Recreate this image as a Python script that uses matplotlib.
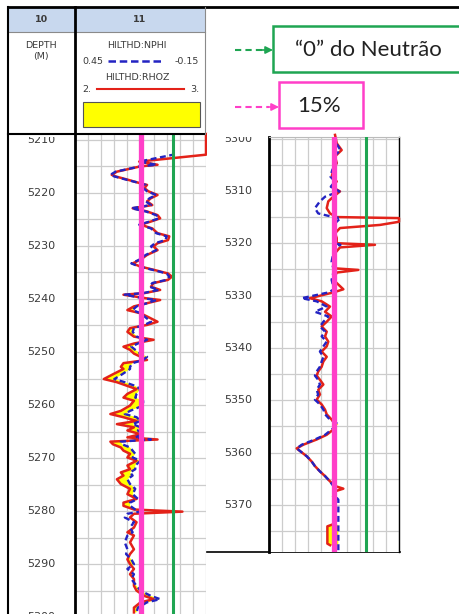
import numpy as np
import matplotlib
matplotlib.use('Agg')
import matplotlib.pyplot as plt
from matplotlib.patches import Rectangle

W, H = 460, 614

# HILTHD log curves, first interval (left track)
depth_a = [5208.9, 5212.8, 5214.1, 5214.7, 5215.0, 5216.0, 5216.6, 5216.9, 5217.5, 5218.2,
           5218.5, 5219.1, 5219.7, 5220.4, 5221.0, 5221.6, 5222.3, 5222.9, 5223.5, 5224.2,
           5224.8, 5225.4, 5226.0, 5226.7, 5227.6, 5228.2, 5228.9, 5229.5, 5230.1, 5230.8,
           5231.7, 5232.6, 5233.3, 5233.9, 5234.5, 5235.2, 5235.8, 5236.4, 5237.0, 5237.7,
           5238.3, 5238.9, 5239.2, 5239.9, 5240.2, 5240.8, 5241.4, 5242.1, 5242.7, 5243.3,
           5244.3, 5244.9, 5245.5, 5246.2, 5247.1, 5247.7, 5248.4, 5249.0, 5249.6, 5250.3,
           5250.9, 5251.5, 5252.1, 5252.8, 5253.2, 5254.2, 5255.1, 5255.7, 5256.4, 5257.0,
           5257.9, 5258.6, 5259.2, 5260.1, 5261.1, 5261.7, 5262.3, 5263.0, 5263.6, 5264.2,
           5264.8, 5265.5, 5266.1, 5266.5, 5266.9, 5267.4, 5268.0, 5268.6, 5269.2, 5269.9,
           5270.5, 5271.4, 5272.1, 5272.7, 5273.3, 5274.0, 5274.9, 5275.8, 5276.8, 5277.7,
           5278.4, 5279.0, 5279.7, 5280.1, 5280.5, 5281.2, 5282.1, 5283.1, 5284.0, 5284.6,
           5285.9, 5287.2, 5288.1, 5289.1, 5290.0, 5290.9, 5291.9, 5292.8, 5294.1, 5295.0,
           5296.0, 5296.6, 5297.2, 5298.2, 5299.1]
rhoz_a = [3.00, 3.00, 2.49, 2.63, 2.50, 2.32, 2.28, 2.31, 2.40, 2.50,
          2.55, 2.53, 2.56, 2.63, 2.58, 2.55, 2.59, 2.44, 2.55, 2.63,
          2.65, 2.58, 2.50, 2.59, 2.63, 2.72, 2.71, 2.63, 2.60, 2.63,
          2.55, 2.50, 2.44, 2.50, 2.60, 2.71, 2.74, 2.71, 2.60, 2.58,
          2.65, 2.53, 2.37, 2.55, 2.65, 2.55, 2.45, 2.40, 2.50, 2.55,
          2.63, 2.55, 2.42, 2.40, 2.45, 2.60, 2.45, 2.37, 2.42, 2.45,
          2.50, 2.55, 2.37, 2.35, 2.37, 2.29, 2.22, 2.32, 2.40, 2.47,
          2.40, 2.37, 2.45, 2.42, 2.35, 2.27, 2.37, 2.47, 2.32, 2.45,
          2.40, 2.50, 2.40, 2.63, 2.27, 2.29, 2.35, 2.37, 2.42, 2.40,
          2.47, 2.40, 2.42, 2.35, 2.37, 2.32, 2.35, 2.42, 2.40, 2.47,
          2.37, 2.37, 2.45, 2.82, 2.45, 2.42, 2.47, 2.45, 2.40, 2.45,
          2.42, 2.45, 2.42, 2.40, 2.42, 2.45, 2.42, 2.45, 2.45, 2.47,
          2.53, 2.60, 2.50, 2.45, 2.45]
nphi_a = [0.000, 0.000, 0.156, 0.078, 0.150, 0.264, 0.288, 0.270, 0.216, 0.150,
          0.126, 0.138, 0.120, 0.078, 0.108, 0.126, 0.102, 0.192, 0.126, 0.078,
          0.066, 0.108, 0.156, 0.102, 0.078, 0.030, 0.036, 0.084, 0.102, 0.078,
          0.126, 0.156, 0.192, 0.156, 0.096, 0.030, 0.018, 0.030, 0.096, 0.108,
          0.066, 0.138, 0.222, 0.132, 0.078, 0.120, 0.168, 0.186, 0.150, 0.132,
          0.102, 0.132, 0.180, 0.186, 0.168, 0.120, 0.162, 0.192, 0.174, 0.150,
          0.120, 0.138, 0.186, 0.198, 0.198, 0.234, 0.270, 0.222, 0.174, 0.150,
          0.168, 0.174, 0.138, 0.138, 0.198, 0.222, 0.168, 0.150, 0.186, 0.150,
          0.162, 0.138, 0.174, 0.102, 0.240, 0.234, 0.198, 0.186, 0.174, 0.186,
          0.150, 0.174, 0.174, 0.198, 0.186, 0.210, 0.198, 0.174, 0.186, 0.162,
          0.198, 0.198, 0.174, 0.150, 0.210, 0.222, 0.180, 0.198, 0.186, 0.210,
          0.222, 0.210, 0.216, 0.192, 0.180, 0.210, 0.180, 0.192, 0.168, 0.150,
          0.102, 0.060, 0.120, 0.162, 0.168]

# second interval (right track)
depth_b = [5299.3, 5300.9, 5302.2, 5303.4, 5304.7, 5306.0, 5307.3, 5308.2, 5309.2, 5310.1,
           5311.1, 5312.0, 5313.3, 5314.3, 5315.0, 5315.2, 5315.9, 5316.5, 5317.1, 5318.1,
           5319.0, 5320.0, 5320.3, 5320.8, 5321.9, 5323.5, 5324.8, 5325.1, 5325.6, 5327.0,
           5328.8, 5329.4, 5330.5, 5331.1, 5332.1, 5333.1, 5334.0, 5335.0, 5335.9, 5336.9,
           5337.8, 5338.8, 5339.7, 5340.7, 5341.7, 5342.6, 5343.6, 5344.5, 5345.3, 5346.1,
           5347.0, 5348.0, 5348.9, 5349.9, 5350.8, 5351.8, 5352.7, 5353.7, 5354.6, 5355.6,
           5356.6, 5357.5, 5358.5, 5359.2, 5359.7, 5360.7, 5361.7, 5362.6, 5363.6, 5364.5,
           5365.5, 5366.4, 5366.9, 5367.4, 5368.3, 5369.0, 5373.6, 5373.8, 5374.1, 5377.4,
           5377.7, 5379.0]
rhoz_b = [2.508, 2.521, 2.559, 2.508, 2.521, 2.495, 2.482, 2.521, 2.482, 2.546,
          2.495, 2.456, 2.444, 2.469, 2.521, 3.000, 3.000, 2.854, 2.546, 2.508,
          2.521, 2.521, 2.815, 2.546, 2.508, 2.495, 2.508, 2.687, 2.521, 2.495,
          2.572, 2.495, 2.315, 2.405, 2.469, 2.431, 2.482, 2.444, 2.405, 2.444,
          2.431, 2.456, 2.444, 2.405, 2.444, 2.418, 2.405, 2.379, 2.367, 2.392,
          2.418, 2.379, 2.392, 2.367, 2.405, 2.431, 2.444, 2.482, 2.508, 2.495,
          2.444, 2.367, 2.264, 2.213, 2.238, 2.290, 2.328, 2.354, 2.392, 2.431,
          2.469, 2.508, 2.572, 2.508, 2.495, np.nan, np.nan, 2.482, 2.449, 2.449,
          2.470, np.nan]
nphi_b = [0.145, 0.140, 0.120, 0.150, 0.140, 0.158, 0.166, 0.145, 0.165, 0.125,
          0.191, 0.215, 0.238, 0.223, 0.153, 0.120, 0.138, 0.150, 0.153, 0.153,
          0.145, 0.145, 0.120, 0.145, 0.153, 0.161, 0.153, 0.132, 0.153, 0.161,
          0.150, 0.176, 0.299, 0.230, 0.184, 0.238, 0.176, 0.199, 0.215, 0.191,
          0.207, 0.184, 0.199, 0.215, 0.199, 0.207, 0.215, 0.230, 0.238, 0.223,
          0.215, 0.230, 0.223, 0.238, 0.215, 0.199, 0.191, 0.169, 0.130, 0.161,
          0.191, 0.238, 0.299, 0.322, 0.307, 0.276, 0.253, 0.238, 0.215, 0.191,
          0.169, 0.153, 0.137, 0.145, 0.145, 0.130, 0.130, 0.130, 0.130, 0.130,
          0.130, 0.130]

rhoz_scale = (2.0, 3.0)
nphi_scale = (0.45, -0.15)
nphi_zero = 0.0     # "0" do Neutrao
nphi_cut = 0.15     # 15 %
labels_a = list(range(5210, 5301, 10))
labels_b = list(range(5300, 5371, 10))

RED = '#e32219'
BLUE = '#2323c2'
PINK = '#ff3fc8'
GREEN = '#1fa552'
GRID = '#cccccc'
TXT = '#3a3a3a'

fig = plt.figure(figsize=(W / 100, H / 100), dpi=100)


def px_axes(x0, y0, x1, y1):
    return fig.add_axes([x0 / W, 1 - y1 / H, (x1 - x0) / W, (y1 - y0) / H])


def depth_column(x0, y0, x1, y1, ylim, labels):
    ax = px_axes(x0, y0, x1, y1)
    ax.set_xlim(0, 1)
    ax.set_ylim(*ylim)
    ax.axis('off')
    for d in labels:
        ax.text(0.5, d, str(d), ha='center', va='center', fontsize=8,
                color=TXT, clip_on=True)
    return ax


def log_track(x0, y0, x1, y1, ylim, depth, rhoz, nphi):
    ax = px_axes(x0, y0, x1, y1)
    ax2 = ax.twiny()
    ax2.set_autoscale_on(False)
    ax.set_autoscale_on(False)
    ax.set_xlim(*rhoz_scale)
    ax2.set_xlim(*nphi_scale)
    ax.set_ylim(*ylim)
    ax.set_xticks(np.linspace(rhoz_scale[0], rhoz_scale[1], 11))
    ax.set_yticks(np.arange(5200, 5400, 5))
    ax.grid(True, color=GRID, lw=0.9)
    ax.tick_params(length=0, labelbottom=False, labelleft=False)
    ax2.tick_params(length=0, labeltop=False)
    for a in (ax, ax2):
        for s in a.spines.values():
            s.set_visible(False)

    d = np.asarray(depth, float)
    r = np.asarray(rhoz, float)
    n = np.asarray(nphi, float)
    # neutron curve expressed on the density axis, for the crossover shading
    disp = ax2.transData.transform(np.column_stack([n, d]))
    n_on_r = ax.transData.inverted().transform(disp)[:, 0]
    with np.errstate(invalid='ignore'):
        gas = n_on_r > r
    ax.fill_betweenx(d, r, n_on_r, where=gas, interpolate=True,
                     color='#ffff00', lw=0, zorder=2)
    ax2.plot(n, d, color=BLUE, lw=1.7, ls=(0, (2.5, 1.5)), zorder=3)
    ax.plot(r, d, color=RED, lw=1.8, zorder=4, clip_on=False)
    ax2.axvline(nphi_zero, color=GREEN, lw=2.2, zorder=5)
    ax2.axvline(nphi_cut, color=PINK, lw=3.8, zorder=6)
    ax.set_ylim(*ylim)
    return ax, ax2


# left panel
depth_column(8, 137, 75, 614, (5299.4, 5209.4), labels_a)
log_track(75, 134, 206, 614, (5299.4, 5208.9), depth_a, rhoz_a, nphi_a)

# right panel drawn over the left one
box = px_axes(207, 133, 400, 552)
box.set_xticks([])
box.set_yticks([])
for k, s in box.spines.items():
    s.set_visible(k == 'bottom')
box.spines['bottom'].set_linewidth(1.2)
depth_column(207, 137, 269, 552, (5379.0, 5299.7), labels_b)
tb, tb2 = log_track(269, 137, 399, 552, (5379.0, 5299.7), depth_b, rhoz_b, nphi_b)
tb.spines['left'].set_visible(True)
tb.spines['left'].set_linewidth(2)
tb.spines['right'].set_visible(True)
tb.spines['right'].set_linewidth(1)
tb.spines['top'].set_visible(True)
tb.spines['top'].set_color('#bbbbbb')

# header, frame lines and notes in pixel coordinates
ov = fig.add_axes([0, 0, 1, 1])
ov.set_xlim(0, W)
ov.set_ylim(H, 0)
ov.axis('off')
ov.set_zorder(10)

ov.add_patch(Rectangle((8, 7), 197, 25, fc='#c8d8ee', ec='none'))
ov.add_patch(Rectangle((8, 32), 197, 102, fc='white', ec='none'))
ov.plot([8, 460], [7, 7], color='black', lw=2)
ov.plot([8, 205], [32, 32], color='#8a8a8a', lw=0.8)
ov.plot([8, 205], [134, 134], color='black', lw=1.5)
ov.plot([205, 205], [7, 134], color='#8a8a8a', lw=0.8)
ov.plot([8, 8], [7, 614], color='black', lw=1.5)
ov.plot([75, 75], [7, 614], color='black', lw=2)

hfont = dict(fontsize=6.8, color=TXT)
ov.text(41, 20, '10', ha='center', va='center', fontweight='bold', **hfont)
ov.text(140, 20, '11', ha='center', va='center', fontweight='bold', **hfont)
ov.text(41, 45, 'DEPTH', ha='center', va='center', **hfont)
ov.text(41, 56, '(M)', ha='center', va='center', **hfont)
ov.text(137, 45, 'HILTHD:NPHI', ha='center', va='center', **hfont)
ov.text(82, 61, '0.45', ha='left', va='center', **hfont)
ov.text(199, 61, '-0.15', ha='right', va='center', **hfont)
ov.plot([108, 162], [61, 61], color=BLUE, lw=1.8, ls=(0, (3, 1.5)))
ov.text(137, 77, 'HILTHD:RHOZ', ha='center', va='center', **hfont)
ov.text(82, 89, '2.', ha='left', va='center', **hfont)
ov.text(199, 89, '3.', ha='right', va='center', **hfont)
ov.plot([97, 184], [89, 89], color=RED, lw=1.5)
ov.add_patch(Rectangle((83, 102), 117, 25, fc='#ffff00', ec='#555555', lw=0.8))

# note boxes
nfont = dict(fontsize=16, family='Lato', color='#222222')
ov.add_patch(Rectangle((273, 26), 200, 46, fc='white', ec=GREEN, lw=1.8, clip_on=False))
ov.text(368, 50, '\u201c0\u201d do Neutr\u00e3o', ha='center', va='center', **nfont)
ov.add_patch(Rectangle((279, 82), 84, 46, fc='white', ec=PINK, lw=1.8))
ov.text(319, 106, '15%', ha='center', va='center', **nfont)

for y, x_end, col in [(50, 273, GREEN), (107, 279, PINK)]:
    ov.plot([235, x_end - 10], [y, y], color=col, lw=1.5, ls=(0, (3, 2)))
    ov.annotate('', xy=(x_end, y), xytext=(x_end - 11, y),
                arrowprops=dict(arrowstyle='-|>', color=col, lw=1.2,
                                mutation_scale=11, shrinkA=0, shrinkB=0))

fig.savefig('out.png', dpi=100)
